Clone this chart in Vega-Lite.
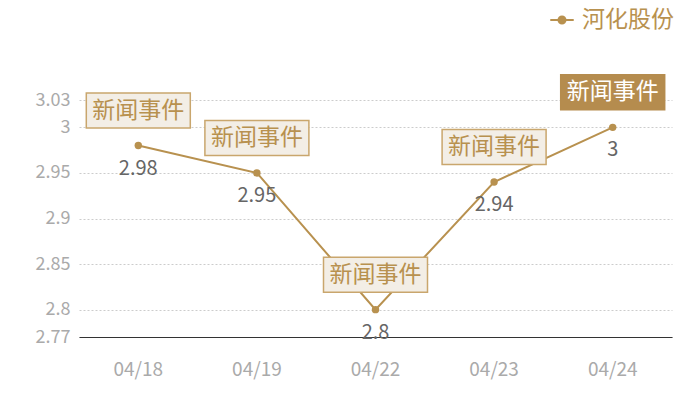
{
  "$schema": "https://vega.github.io/schema/vega-lite/v6.json",
  "autosize": "none",
  "width": 593,
  "height": 237,
  "padding": {"left": 79, "top": 100, "right": 28, "bottom": 63},
  "config": {
    "view": {"stroke": null},
    "font": "Noto Sans CJK SC"
  },
  "data": {
    "values": [
      {"date": "04/18", "price": 2.98, "event": "新闻事件", "series": "河化股份"},
      {"date": "04/19", "price": 2.95, "event": "新闻事件", "series": "河化股份"},
      {"date": "04/22", "price": 2.8, "event": "新闻事件", "series": "河化股份"},
      {"date": "04/23", "price": 2.94, "event": "新闻事件", "series": "河化股份"},
      {"date": "04/24", "price": 3.0, "event": "新闻事件", "series": "河化股份"}
    ]
  },
  "encoding": {
    "x": {
      "field": "date",
      "type": "nominal",
      "sort": null,
      "scale": {"paddingInner": 0, "paddingOuter": 0},
      "axis": {
        "title": null,
        "labelAngle": 0,
        "labelColor": "#aaaaaa",
        "labelFontSize": 19,
        "labelPadding": 23,
        "ticks": false,
        "domainColor": "#333333",
        "domainWidth": 1
      }
    },
    "y": {
      "field": "price",
      "type": "quantitative",
      "scale": {"domain": [2.77, 3.03], "zero": false, "nice": false},
      "axis": {
        "title": null,
        "values": [2.77, 2.8, 2.85, 2.9, 2.95, 3, 3.03],
        "format": "~g",
        "labelColor": "#aaaaaa",
        "labelFontSize": 18,
        "labelPadding": 9,
        "ticks": false,
        "domain": false,
        "gridColor": "#cccccc",
        "gridDash": [2, 2]
      }
    }
  },
  "layer": [
    {
      "mark": {"type": "line", "strokeWidth": 2, "point": {"size": 55, "filled": true}},
      "encoding": {
        "color": {
          "field": "series",
          "type": "nominal",
          "scale": {"range": ["#b8914f"]},
          "legend": {
            "title": null,
            "orient": "none",
            "legendX": 470,
            "legendY": -93,
            "labelFontSize": 23,
            "labelOffset": 7,
            "labelColor": "#b8914f",
            "symbolType": "M-1,0H-0.3M0.3,0H1M0.3,0A0.3,0.3 0 1,1 -0.3,0A0.3,0.3 0 1,1 0.3,0",
            "symbolSize": 550,
            "symbolStrokeWidth": 2,
            "symbolFillColor": "#b8914f",
            "symbolStrokeColor": "#b8914f"
          }
        }
      }
    },
    {
      "mark": {"type": "rect", "width": 104, "height": 35, "yOffset": -35, "strokeWidth": 1.5},
      "encoding": {
        "fill": {
          "condition": {"test": "datum.date === '04/24'", "value": "#b58c4e"},
          "value": "#f3eee6"
        },
        "stroke": {
          "condition": {"test": "datum.date === '04/24'", "value": "#b58c4e"},
          "value": "#c9a66d"
        }
      }
    },
    {
      "mark": {"type": "text", "dy": -35, "fontSize": 23, "baseline": "middle"},
      "encoding": {
        "text": {"field": "event"},
        "color": {
          "condition": {"test": "datum.date === '04/24'", "value": "#ffffff"},
          "value": "#b8914f"
        }
      }
    },
    {
      "mark": {"type": "text", "dy": 23, "fontSize": 20, "baseline": "middle", "color": "#666666"},
      "encoding": {
        "text": {"field": "price", "type": "quantitative"}
      }
    }
  ]
}
